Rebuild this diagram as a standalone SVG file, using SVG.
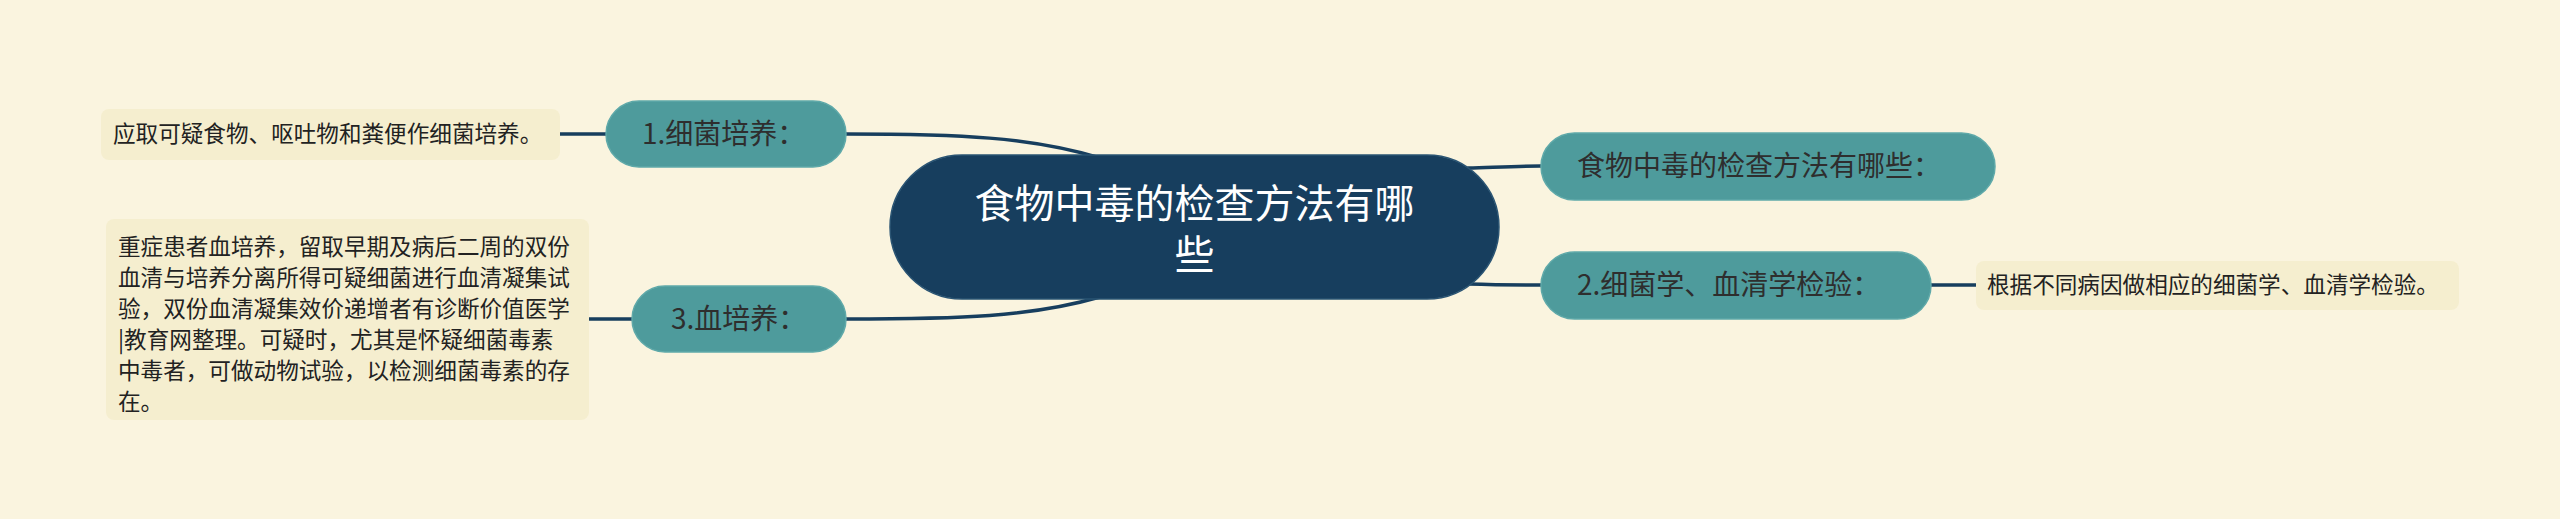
<svg xmlns="http://www.w3.org/2000/svg" width="2560" height="519" viewBox="0 0 2560 519">
<style>
.bg{fill:#faf4df}
.root{fill:#173e5e;stroke:#2a5473;stroke-width:1.5}
.topic{fill:#4e9b9c;stroke:#5fa9a9;stroke-width:1.5}
.leaf{fill:#f5eecf}
.conn{fill:none;stroke:#173e5e;stroke-width:3.5;stroke-linecap:round}
.t{font-family:"Noto Sans CJK SC","Noto Sans",sans-serif}
.rt{fill:#ffffff;font-size:40px}
.tt{fill:#2e2e2e;font-size:28px}
.lt{fill:#222222;font-size:22.6px}
</style>
<rect class="bg" x="0" y="0" width="2560" height="519"/>
<g id="connectors">
<path class="conn" d="M1100,158 C1030,137 960,134 846,134"/>
<path class="conn" d="M1100,297 C1030,317 960,319 846,319"/>
<path class="conn" d="M1468,168 C1500,167 1520,166 1541,166"/>
<path class="conn" d="M1468,284 C1500,285 1520,285 1541,285"/>
<path class="conn" d="M560,134 L606,134"/>
<path class="conn" d="M589,319 L632,319"/>
<path class="conn" d="M1931,285 L1976,285"/>
</g>
<g id="root">
<rect class="root" x="890" y="155" width="609" height="144" rx="72"/>
<text class="t rt" x="1194.5" y="218" text-anchor="middle">食物中毒的检查方法有哪</text>
<text class="t rt" x="1194.5" y="269" text-anchor="middle">些</text>
</g>
<g id="topic-intro">
<rect class="topic" x="1541" y="133" width="454" height="67" rx="33.5"/>
<text class="t tt" x="1577" y="176">食物中毒的检查方法有哪些：</text>
</g>
<g id="topic-1">
<rect class="topic" x="606" y="101" width="240" height="66" rx="33"/>
<text class="t tt" x="642" y="144">1.细菌培养：</text>
</g>
<g id="topic-2">
<rect class="topic" x="1541" y="252" width="390" height="67" rx="33.5"/>
<text class="t tt" x="1577" y="295">2.细菌学、血清学检验：</text>
</g>
<g id="topic-3">
<rect class="topic" x="632" y="286" width="214" height="66" rx="33"/>
<text class="t tt" x="671" y="329">3.血培养：</text>
</g>
<g id="leaf-1">
<rect class="leaf" x="101" y="109" width="459" height="51" rx="8"/>
<text class="t lt" x="113" y="142">应取可疑食物、呕吐物和粪便作细菌培养。</text>
</g>
<g id="leaf-2">
<rect class="leaf" x="1976" y="261" width="483" height="49" rx="8"/>
<text class="t lt" x="1987" y="293">根据不同病因做相应的细菌学、血清学检验。</text>
</g>
<g id="leaf-3">
<rect class="leaf" x="106" y="219" width="483" height="201" rx="8"/>
<text class="t lt" x="118" y="255">重症患者血培养，留取早期及病后二周的双份</text>
<text class="t lt" x="118" y="286">血清与培养分离所得可疑细菌进行血清凝集试</text>
<text class="t lt" x="118" y="317">验，双份血清凝集效价递增者有诊断价值医学</text>
<text class="t lt" x="118" y="348">|教育网整理。可疑时，尤其是怀疑细菌毒素</text>
<text class="t lt" x="118" y="379">中毒者，可做动物试验，以检测细菌毒素的存</text>
<text class="t lt" x="118" y="410">在。</text>
</g>
</svg>
